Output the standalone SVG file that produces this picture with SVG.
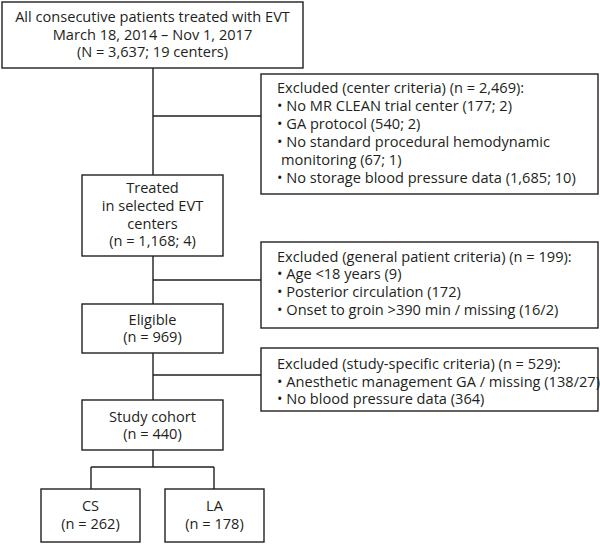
<svg xmlns="http://www.w3.org/2000/svg" width="600" height="544" viewBox="0 0 600 544">
<style>
rect{fill:#fff;stroke:#231f20;stroke-width:1.4}
text{font-family:"Open Sans","Noto Sans","DejaVu Sans",sans-serif;font-size:14.6px;fill:#231f20}
.c{text-anchor:middle}
.ln{stroke:#231f20;stroke-width:1.4;fill:none}
</style>
<rect x="0" y="0" width="600" height="544" style="stroke:none"/>
<g id="connectors">
<path class="ln" d="M153 68V175M153 116H261M153 256V304M153 280H261M153 353V400M153 375H261M153 450V467M91 467H214M91 467V489M214 467V489"/>
</g>
<g id="all">
<rect x="2" y="2" width="301" height="66"/>
<text class="c" x="152.5" y="22">All consecutive patients treated with EVT</text>
<text class="c" x="152.5" y="39.5">March 18, 2014 – Nov 1, 2017</text>
<text class="c" x="152.5" y="57">(N = 3,637; 19 centers)</text>
</g>
<g id="excl1">
<rect x="261" y="74" width="337" height="120"/>
<text x="277" y="93">Excluded (center criteria) (n = 2,469):</text>
<text x="277" y="111">• No MR CLEAN trial center (177; 2)</text>
<text x="277" y="129">• GA protocol (540; 2)</text>
<text x="277" y="147">• No standard procedural hemodynamic</text>
<text x="281" y="165">monitoring (67; 1)</text>
<text x="277" y="183">• No storage blood pressure data (1,685; 10)</text>
</g>
<g id="treated">
<rect x="82" y="175" width="141" height="81"/>
<text class="c" x="152.5" y="193.3">Treated</text>
<text class="c" x="152.5" y="211">in selected EVT</text>
<text class="c" x="152.5" y="228.5">centers</text>
<text class="c" x="152.5" y="246">(n = 1,168; 4)</text>
</g>
<g id="excl2">
<rect x="261" y="242" width="337" height="86"/>
<text x="277" y="261.5">Excluded (general patient criteria) (n = 199):</text>
<text x="277" y="279.3">• Age &lt;18 years (9)</text>
<text x="277" y="297">• Posterior circulation (172)</text>
<text x="277" y="315">• Onset to groin &gt;390 min / missing (16/2)</text>
</g>
<g id="eligible">
<rect x="82" y="304" width="141" height="49"/>
<text class="c" x="152.5" y="325">Eligible</text>
<text class="c" x="152.5" y="342">(n = 969)</text>
</g>
<g id="excl3">
<rect x="261" y="348" width="337" height="63"/>
<text x="277" y="368.5">Excluded (study-specific criteria) (n = 529):</text>
<text x="277" y="386.5">• Anesthetic management GA / missing (138/27)</text>
<text x="277" y="404.3">• No blood pressure data (364)</text>
</g>
<g id="cohort">
<rect x="82" y="400" width="141" height="50"/>
<text class="c" x="152.5" y="421.7">Study cohort</text>
<text class="c" x="152.5" y="438.5">(n = 440)</text>
</g>
<g id="cs">
<rect x="41" y="489" width="99" height="53"/>
<text class="c" x="90.5" y="510.7">CS</text>
<text class="c" x="90.5" y="529.3">(n = 262)</text>
</g>
<g id="la">
<rect x="165" y="489" width="99" height="53"/>
<text class="c" x="214.5" y="510.7">LA</text>
<text class="c" x="214.5" y="529.3">(n = 178)</text>
</g>
</svg>
